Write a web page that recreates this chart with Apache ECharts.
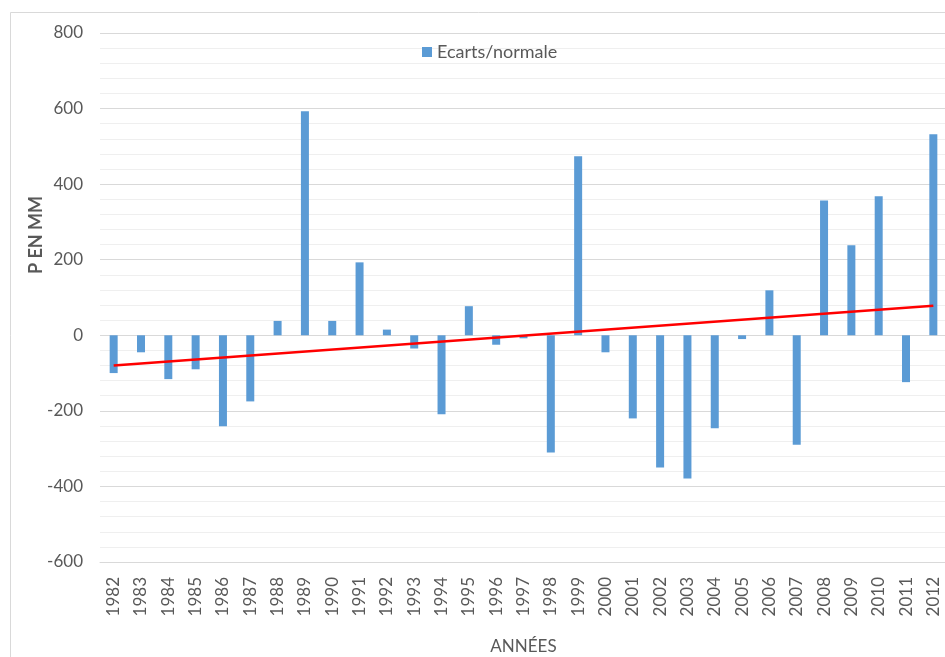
<!DOCTYPE html>
<html>
<head>
<meta charset="utf-8">
<script src="https://cdn.jsdelivr.net/npm/echarts@6/dist/echarts.min.js"></script>
<style>
  html, body { margin: 0; padding: 0; background: #fff; }
  #chart { width: 945px; height: 657px; }
</style>
</head>
<body>
<div id="chart"></div>
<script>
const years = ['1982','1983','1984','1985','1986','1987','1988','1989','1990','1991',
  '1992','1993','1994','1995','1996','1997','1998','1999','2000','2001',
  '2002','2003','2004','2005','2006','2007','2008','2009','2010','2011','2012']
const ecarts = [-100, -45, -116, -90, -241, -175, 38, 593, 38, 193,
  15, -35, -209, 77, -25, -8, -310, 474, -45, -220,
  -350, -379, -246, -10, 119, -290, 357, 238, 368, -124, 532]
// tendance linéaire : valeurs aux extrémités
const trendStart = -80
const trendEnd = 78

const grey = '#595959'
const chart = echarts.init(document.getElementById('chart'))

chart.setOption({
  backgroundColor: '#fff',
  animation: false,
  textStyle: { fontFamily: 'Lato' },
  graphic: [
    {
      type: 'rect',
      shape: { x: 10.5, y: 12.5, width: 960, height: 680 },
      style: { fill: 'none', stroke: '#d9d9d9', lineWidth: 1 },
      z: -1
    },
    {
      type: 'text',
      x: 36, y: 235,
      rotation: Math.PI / 2,
      style: {
        text: 'P EN MM',
        fill: grey,
        font: 'bold 18px Lato',
        align: 'center',
        verticalAlign: 'middle'
      }
    }
  ],
  legend: {
    data: ['Ecarts/normale'],
    icon: 'rect',
    left: 417,
    top: 38,
    itemWidth: 10,
    itemHeight: 10,
    itemGap: 6,
    textStyle: { color: grey, fontSize: 18 }
  },
  grid: { left: 100, right: -2, top: 33, bottom: 95, outerBoundsMode: 'none' },
  xAxis: {
    type: 'category',
    data: years,
    name: 'ANNÉES',
    nameLocation: 'middle',
    nameGap: 76,
    nameTextStyle: { color: grey, fontSize: 17 },
    axisLine: { onZero: false, lineStyle: { color: '#d9d9d9' } },
    axisTick: { show: false },
    axisLabel: { rotate: 90, color: grey, fontSize: 17, margin: 15 }
  },
  yAxis: {
    type: 'value',
    min: -600,
    max: 800,
    interval: 200,
    axisLine: { show: false },
    axisTick: { show: false },
    axisLabel: { color: grey, fontSize: 17, margin: 17 },
    splitLine: { lineStyle: { color: '#d9d9d9' } },
    minorTick: { show: false, splitNumber: 5 },
    minorSplitLine: { show: true, lineStyle: { color: '#efefef' } }
  },
  series: [
    {
      name: 'Ecarts/normale',
      type: 'bar',
      data: ecarts,
      barWidth: 8,
      itemStyle: { color: '#5b9bd5' },
      markLine: {
        silent: true,
        symbol: 'none',
        label: { show: false },
        lineStyle: { color: '#ff0000', width: 2.5, type: 'solid' },
        data: [[
          { coord: [years[0], trendStart] },
          { coord: [years[years.length - 1], trendEnd] }
        ]]
      }
    }
  ]
})
</script>
</body>
</html>
